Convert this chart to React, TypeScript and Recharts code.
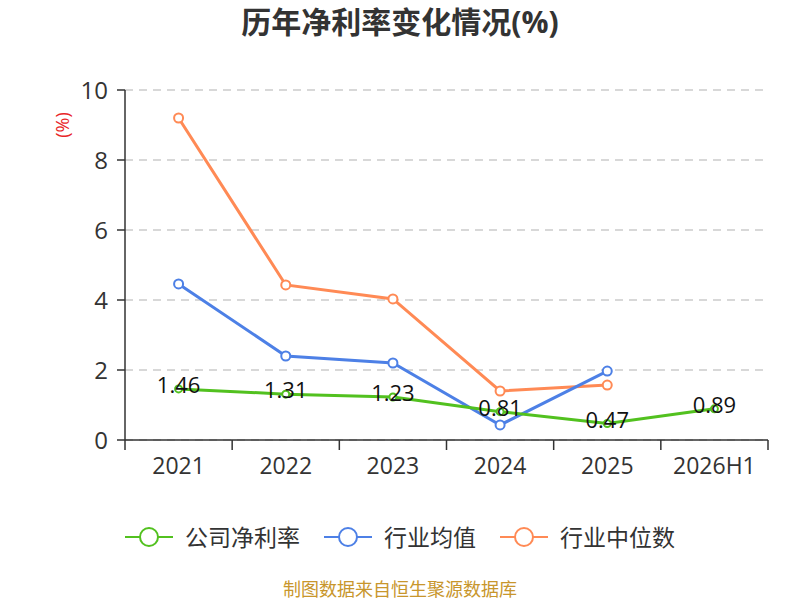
import React from 'react';
import { LineChart, Line, XAxis, YAxis, CartesianGrid, LabelList } from 'recharts';

const categories = ['2021', '2022', '2023', '2024', '2025', '2026H1'];
const companyRate = [1.46, 1.31, 1.23, 0.81, 0.47, 0.89];
const industryAvg = [4.46, 2.4, 2.2, 0.43, 1.97, null];
const industryMedian = [9.2, 4.43, 4.03, 1.4, 1.57, null];
const yTicks = [0, 2, 4, 6, 8, 10];

const seriesNames = ['公司净利率', '行业均值', '行业中位数'];
const COLORS = ['#52c11f', '#4d80e6', '#ff8a55'];

const FONT = '"Open Sans", "Noto Sans CJK SC", sans-serif';
const CHART_W = 800;
const CHART_H = 600;
const MARGIN = { top: 90, right: 32, bottom: 130, left: 65 };
const Y_AXIS_W = 60;
const PLOT_W = CHART_W - MARGIN.left - Y_AXIS_W - MARGIN.right;
const BAND = PLOT_W / categories.length;

const data = categories.map((c, i) => ({
  name: c,
  company: companyRate[i],
  avg: industryAvg[i],
  median: industryMedian[i],
}));

const XTick = (props: any) => {
  const { x, y, payload, index } = props;
  const left = x - BAND / 2;
  const isLast = index === categories.length - 1;
  return (
    <g>
      <line x1={left} y1={y} x2={left} y2={y + 10} stroke="#333" strokeWidth={1.5} />
      {isLast && (
        <line x1={x + BAND / 2} y1={y} x2={x + BAND / 2} y2={y + 10} stroke="#333" strokeWidth={1.5} />
      )}
      <text x={x} y={y + 34} textAnchor="middle" fill="#333" fontSize={23} fontFamily={FONT}>
        {payload.value}
      </text>
    </g>
  );
};

const ValueLabel = (props: any) => {
  const { x, y, value } = props;
  return (
    <text x={x} y={y + 4} textAnchor="middle" fill="#111" fontSize={22} fontFamily={FONT}>
      {value}
    </text>
  );
};

const LegendIcon = ({ color }: { color: string }) => (
  <svg width={48} height={22} style={{ display: 'block' }}>
    <line x1={0} y1={11} x2={48} y2={11} stroke={color} strokeWidth={2} />
    <circle cx={24} cy={11} r={9} fill="#fff" stroke={color} strokeWidth={2} />
  </svg>
);

export default function App() {
  return (
    <div
      style={{
        position: 'absolute',
        left: 0,
        top: 0,
        width: CHART_W,
        height: CHART_H,
        background: '#fff',
        fontFamily: FONT,
      }}
    >
      <div
        style={{
          position: 'absolute',
          top: 3,
          width: CHART_W,
          textAlign: 'center',
          fontSize: 30,
          fontWeight: 'bold',
          color: '#333',
          lineHeight: '38px',
        }}
      >
        历年净利率变化情况(%)
      </div>
      <div
        style={{
          position: 'absolute',
          left: 42,
          top: 114,
          width: 40,
          textAlign: 'center',
          fontSize: 18,
          color: '#e8262a',
          lineHeight: '22px',
          transform: 'rotate(-90deg)',
        }}
      >
        (%)
      </div>
      <LineChart width={CHART_W} height={CHART_H} data={data} margin={MARGIN}>
        <CartesianGrid vertical={false} stroke="#cccccc" strokeDasharray="8 6" strokeWidth={1.5} />
        <XAxis
          dataKey="name"
          padding={{ left: BAND / 2, right: BAND / 2 }}
          height={30}
          stroke="#333"
          strokeWidth={1.5}
          tickLine={false}
          tickSize={0}
          tickMargin={0}
          tick={<XTick />}
          interval={0}
        />
        <YAxis
          width={Y_AXIS_W}
          domain={[0, 10]}
          ticks={yTicks}
          interval={0}
          stroke="#333"
          strokeWidth={1.5}
          tickSize={8}
          tickMargin={9}
          tick={{ fill: '#333', fontSize: 24, fontFamily: FONT }}
        />
        <Line
          dataKey="median"
          stroke={COLORS[2]}
          strokeWidth={3}
          dot={{ r: 4.5, fill: '#fff', stroke: COLORS[2], strokeWidth: 2 }}
          isAnimationActive={false}
        />
        <Line
          dataKey="avg"
          stroke={COLORS[1]}
          strokeWidth={3}
          dot={{ r: 4.5, fill: '#fff', stroke: COLORS[1], strokeWidth: 2 }}
          isAnimationActive={false}
        />
        <Line
          dataKey="company"
          stroke={COLORS[0]}
          strokeWidth={3}
          dot={{ r: 3.5, fill: '#fff', stroke: COLORS[0], strokeWidth: 2 }}
          isAnimationActive={false}
        >
          <LabelList dataKey="company" content={<ValueLabel />} />
        </Line>
      </LineChart>
      <div
        style={{
          position: 'absolute',
          top: 524,
          width: CHART_W,
          display: 'flex',
          justifyContent: 'center',
          alignItems: 'center',
          gap: 24,
        }}
      >
        {seriesNames.map((n, i) => (
          <div key={n} style={{ display: 'flex', alignItems: 'center', gap: 12 }}>
            <LegendIcon color={COLORS[i]} />
            <span style={{ fontSize: 23, color: '#333', lineHeight: '26px' }}>{n}</span>
          </div>
        ))}
      </div>
      <div
        style={{
          position: 'absolute',
          top: 578,
          width: CHART_W,
          textAlign: 'center',
          fontSize: 18,
          color: '#c8962c',
          lineHeight: '22px',
        }}
      >
        制图数据来自恒生聚源数据库
      </div>
    </div>
  );
}
